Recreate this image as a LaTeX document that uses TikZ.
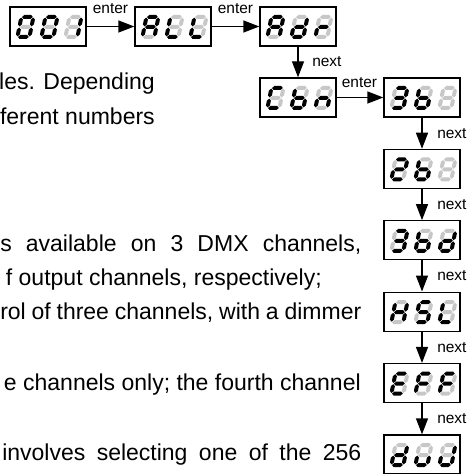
\documentclass[tikz,border=0pt]{standalone}
\usepackage{fontspec}
\setmainfont{Liberation Sans}
\usetikzlibrary{arrows.meta}
\definecolor{segoff}{gray}{0.78}
\makeatletter
\newcommand\segtest[2]{\in@{#1}{#2}\ifin@\def\segc{black}\else\def\segc{segoff}\fi}
\makeatother
% one slanted seven-segment digit; #1,#2 = bottom-left (px), #3 = lit segments
\newcommand\ssdigit[3]{%
  \begin{scope}[shift={(#1,#2)}, x=0.75pt, y=0.75pt, xslant=0.2]
    \segtest{a}{#3}\fill[\segc] (2.6,22)--(4.6,24)--(11.4,24)--(13.4,22)--(11.4,20)--(4.6,20)--cycle;
    \segtest{g}{#3}\fill[\segc] (2.6,12)--(4.6,14)--(11.4,14)--(13.4,12)--(11.4,10)--(4.6,10)--cycle;
    \segtest{d}{#3}\fill[\segc] (2.6,2)--(4.6,4)--(11.4,4)--(13.4,2)--(11.4,0)--(4.6,0)--cycle;
    \segtest{f}{#3}\fill[\segc] (2,12.6)--(4,14.6)--(4,19.4)--(2,21.4)--(0,19.4)--(0,14.6)--cycle;
    \segtest{b}{#3}\fill[\segc] (14,12.6)--(16,14.6)--(16,19.4)--(14,21.4)--(12,19.4)--(12,14.6)--cycle;
    \segtest{e}{#3}\fill[\segc] (2,2.6)--(4,4.6)--(4,9.4)--(2,11.4)--(0,9.4)--(0,4.6)--cycle;
    \segtest{c}{#3}\fill[\segc] (14,2.6)--(16,4.6)--(16,9.4)--(14,11.4)--(12,9.4)--(12,4.6)--cycle;
  \end{scope}}
% display box: #1 name, #2,#3 top-left (px), #4-#6 digits
\newcommand\disp[6]{%
  \node[dbox] (#1) at (#2+38,#3+19.5) {};
  \ssdigit{#2+5}{#3+32}{#4}%
  \ssdigit{#2+29}{#3+32}{#5}%
  \ssdigit{#2+53}{#3+32}{#6}}
\begin{document}
\begin{tikzpicture}[x=0.75pt, y=-0.75pt,
  dbox/.style={draw=black, line width=1pt, fill=white, minimum width=57pt, minimum height=29.25pt, inner sep=0pt},
  arr/.style={line width=1pt, -{Triangle[length=12pt, width=9pt]}},
  lbl/.style={inner sep=0pt, font=\fontsize{11.6}{13}\selectfont},
  txt/.style={inner sep=0pt, font=\fontsize{17.25}{20}\selectfont}]
\useasboundingbox (0,0) rectangle (473,474);
% body text fragments
\node[txt, anchor=base east] (t1) at (155,90) {les. Depending};
\node[txt, anchor=base east] (t2) at (155,124.5) {ferent numbers};
\node[txt, anchor=base west] (t3) at (0,251) {\makebox[270.75pt][s]{s available on 3 DMX channels,}};
\node[txt, anchor=base east] (t4) at (322,285) {f output channels, respectively;};
\node[txt, anchor=base west] (t5) at (0,319.5) {\makebox[270.75pt][s]{rol of three channels, with a dimmer}};
\node[txt, anchor=base east] (t6) at (361,390) {e channels only; the fourth channel};
\node[txt, anchor=base west] (t7) at (2,460) {\makebox[269.25pt][s]{involves selecting one of the 256}};
% displays
\disp{d1}{10}{7}{abcdef}{abcdef}{bc}
\disp{d2}{135}{7}{abcefg}{def}{def}
\disp{d3}{260}{7}{abcefg}{bcdeg}{eg}
\disp{d4}{260}{78}{adef}{cdefg}{ceg}
\disp{d5}{384}{78}{abcdg}{cdefg}{}
\disp{d6}{384}{149.4}{abdeg}{cdefg}{}
\disp{d7}{384}{220.8}{abcdg}{cdefg}{bcdeg}
\disp{d8}{384}{292.2}{bcefg}{acdfg}{def}
\disp{d9}{384}{363.6}{adefg}{aefg}{aefg}
\disp{d10}{384}{435}{bcdeg}{cde}{bcde}
% connectors
\draw[arr] (d1.east) -- (d2.west);
\draw[arr] (d2.east) -- (d3.west);
\draw[arr] (d3.south) -- (d4.north);
\draw[arr] (d4.east) -- (d5.west);
\draw[arr] (d5.south) -- (d6.north);
\draw[arr] (d6.south) -- (d7.north);
\draw[arr] (d7.south) -- (d8.north);
\draw[arr] (d8.south) -- (d9.north);
\draw[arr] (d9.south) -- (d10.north);
% labels
\node[lbl, anchor=base] (e1) at (110.5,13.3) {enter};
\node[lbl, anchor=base] (e2) at (235.5,13.3) {enter};
\node[lbl, anchor=base] (e3) at (359.5,87.3) {enter};
\node[lbl, anchor=west] (n1) at (312,62) {next};
\node[lbl, anchor=west] (n2) at (437,133.2) {next};
\node[lbl, anchor=west] (n3) at (437,204.6) {next};
\node[lbl, anchor=west] (n4) at (437,276) {next};
\node[lbl, anchor=west] (n5) at (437,347.4) {next};
\node[lbl, anchor=west] (n6) at (437,418.8) {next};
\end{tikzpicture}
\end{document}
